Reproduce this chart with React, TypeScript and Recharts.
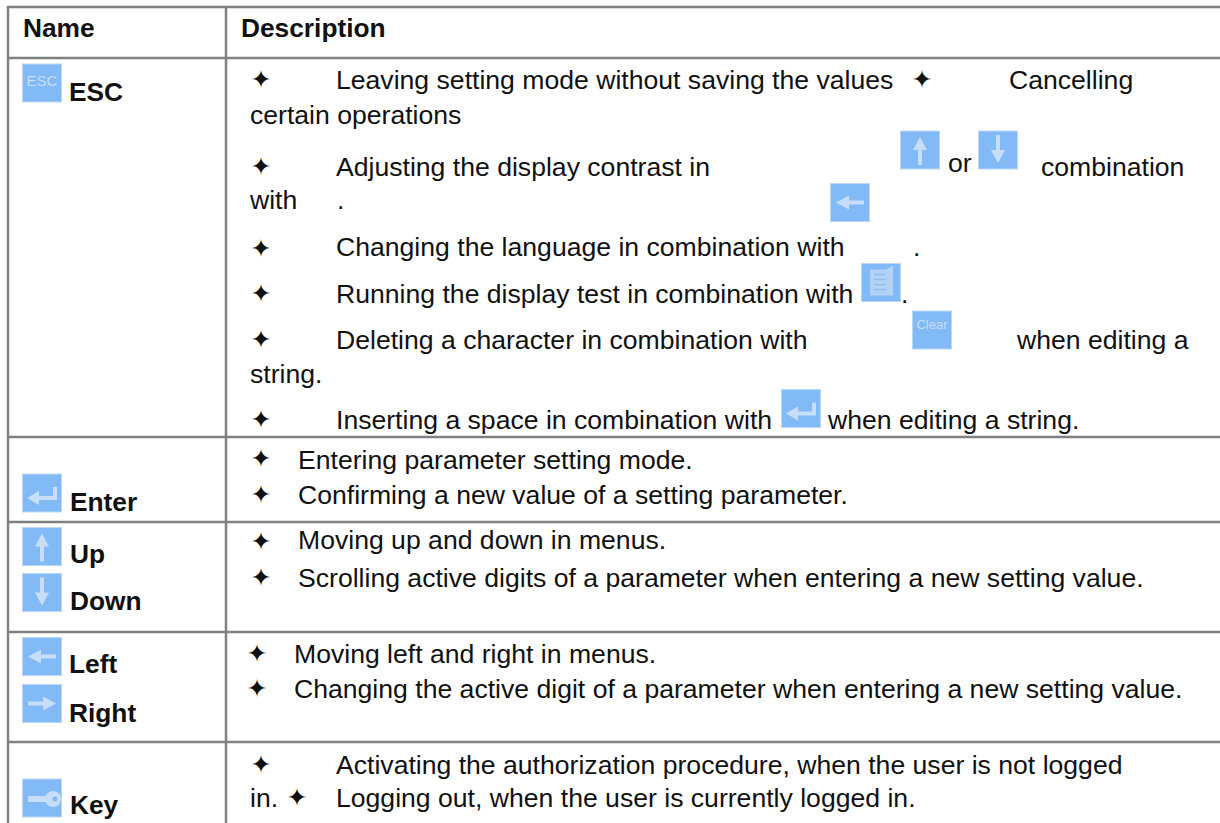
import { ScatterChart, Scatter, XAxis, YAxis, ReferenceLine } from 'recharts'

const WIDTH = 1220
const HEIGHT = 823

// table rules, in page pixels on the x / y scales
const columnRules = [8, 226]
const rowRules = [7, 58, 437, 522, 632, 742]

// first column
const keyNames = ['Name', 'ESC', 'Enter', 'Up', 'Down', 'Left', 'Right', 'Key']
const keyX = [23, 69, 70, 70, 70, 69, 69, 70]
const keyBaseline = [37, 101, 511, 563, 610, 673, 722, 814]

// second column
const headerNames = ['Description']
const headerX = [241]
const headerBaseline = [37]

const bodyTexts = [
  'Leaving setting mode without saving the values',
  'Cancelling',
  'certain operations',
  'Adjusting the display contrast in',
  'or',
  'combination',
  'with',
  '.',
  'Changing the language in combination with',
  '.',
  'Running the display test in combination with',
  '.',
  'Deleting a character in combination with',
  'when editing a',
  'string.',
  'Inserting a space in combination with',
  'when editing a string.',
  'Entering parameter setting mode.',
  'Confirming a new value of a setting parameter.',
  'Moving up and down in menus.',
  'Scrolling active digits of a parameter when entering a new setting value.',
  'Moving left and right in menus.',
  'Changing the active digit of a parameter when entering a new setting value.',
  'Activating the authorization procedure, when the user is not logged',
  'in.',
  'Logging out, when the user is currently logged in.',
]
const bodyX = [
  336, 1009, 250, 336, 948, 1041, 250, 337, 336, 913, 336, 901, 336, 1017, 250, 336, 828, 298, 298, 298, 298, 294, 294,
  336, 250, 336,
]
const bodyBaseline = [
  89, 89, 124, 176, 172, 176, 209, 209, 256, 256, 303, 303, 349, 349, 383, 429, 429, 469, 504, 549, 587, 663, 698, 774,
  807, 807,
]

// bullets (centre)
const starX = [261, 922, 261, 261, 261, 261, 261, 261, 261, 261, 261, 257, 257, 261, 297]
const starY = [79, 79, 166, 248, 293, 339, 419, 458, 494, 541, 577, 653, 688, 764, 797]

// key icons (centre)
const iconKinds = [
  'esc', 'enter', 'up', 'down', 'left', 'right', 'key',
  'up', 'down', 'left', 'test', 'clear', 'enter',
]
const iconX = [42, 42, 42, 42, 42, 42, 42, 920, 998, 850, 881, 932, 801]
const iconY = [83, 493, 546.5, 592.5, 656.5, 703.5, 798, 150, 150, 202.5, 282.5, 330, 408.5]

const zipPoints = (xs: number[], ys: number[], extra: Record<string, unknown[]> = {}) =>
  xs.map((x, i) => {
    const p: Record<string, unknown> = { x, y: ys[i] }
    Object.keys(extra).forEach((k) => (p[k] = extra[k][i]))
    return p
  })

const TextShape = ({ cx, cy, payload, bold }: any) => (
  <text
    x={cx}
    y={cy}
    fontFamily="'Liberation Sans', Arial, sans-serif"
    fontSize={bold ? 26.3 : 26.6}
    fontWeight={bold ? 700 : 400}
    fill="#111"
  >
    {payload.text}
  </text>
)

const StarShape = ({ cx, cy }: any) => (
  <text
    x={cx}
    y={cy}
    textAnchor="middle"
    dominantBaseline="central"
    fontFamily="'DejaVu Sans', sans-serif"
    fontSize={25}
    fill="#111"
  >
    ✦
  </text>
)

const GLYPH = '#c8def8'
const ICON_BLUE = '#82b9f7'

const IconGlyph = ({ kind }: { kind: string }) => {
  const arrow = { stroke: GLYPH, strokeWidth: 4, fill: 'none' }
  switch (kind) {
    case 'esc':
    case 'clear':
      return (
        <text
          textAnchor="middle"
          y={kind === 'esc' ? 3 : -1}
          fontFamily="'Liberation Sans', Arial, sans-serif"
          fontSize={kind === 'esc' ? 15 : 13}
          fill={GLYPH}
        >
          {kind === 'esc' ? 'ESC' : 'Clear'}
        </text>
      )
    case 'up':
      return (
        <g>
          <path d="M0 -2 V15" {...arrow} />
          <path d="M0 -13 L-7 0 H7 Z" fill={GLYPH} />
        </g>
      )
    case 'down':
      return (
        <g>
          <path d="M0 -15 V2" {...arrow} />
          <path d="M0 13 L-7 0 H7 Z" fill={GLYPH} />
        </g>
      )
    case 'left':
      return (
        <g>
          <path d="M-3 0 H14" {...arrow} />
          <path d="M-14 0 L-1 -7 V7 Z" fill={GLYPH} />
        </g>
      )
    case 'right':
      return (
        <g>
          <path d="M-14 0 H3" {...arrow} />
          <path d="M14 0 L1 -7 V7 Z" fill={GLYPH} />
        </g>
      )
    case 'enter':
      return (
        <g>
          <path d="M-6 5 H13 V-6" {...arrow} />
          <path d="M-15 5 L-3 -2 V12 Z" fill={GLYPH} />
        </g>
      )
    case 'key':
      return (
        <g>
          <path d="M-14 1 H4" stroke={GLYPH} strokeWidth={6} fill="none" />
          <circle cx={11} cy={1} r={8} fill={GLYPH} />
          <circle cx={13} cy={1} r={2.5} fill={ICON_BLUE} />
        </g>
      )
    case 'test':
      return (
        <g>
          <path d="M-11 -13 H5 L12 -17 V13 H-11 Z" fill="#b4d2f6" />
          <path d="M-7 -8 H4 M-7 -3 H5 M-7 2 H5 M-7 7 H5" stroke="#8fbdf2" strokeWidth={1.5} />
        </g>
      )
    default:
      return null
  }
}

const IconShape = ({ cx, cy, payload }: any) => (
  <g transform={`translate(${cx} ${cy})`}>
    <rect x={-19.5} y={-19} width={39} height={38} fill={ICON_BLUE} stroke="#bcd8f7" strokeWidth={1} />
    <IconGlyph kind={payload.kind} />
  </g>
)

const keyData = zipPoints(keyX, keyBaseline, { text: keyNames })
const headerData = zipPoints(headerX, headerBaseline, { text: headerNames })
const bodyData = zipPoints(bodyX, bodyBaseline, { text: bodyTexts })
const starData = zipPoints(starX, starY)
const iconData = zipPoints(iconX, iconY, { kind: iconKinds })

export default function App() {
  return (
    <div style={{ position: 'absolute', left: 0, top: 0, background: '#fff' }}>
      <ScatterChart width={WIDTH} height={HEIGHT} margin={{ top: 0, right: 0, bottom: 0, left: 0 }}>
        <XAxis type="number" dataKey="x" domain={[0, WIDTH]} hide />
        <YAxis type="number" dataKey="y" domain={[0, HEIGHT]} reversed hide />
        {rowRules.map((y) => (
          <ReferenceLine key={`r${y}`} segment={[{ x: 7, y }, { x: WIDTH, y }]} stroke="#808080" strokeWidth={2.5} />
        ))}
        {columnRules.map((x) => (
          <ReferenceLine key={`c${x}`} segment={[{ x, y: 6 }, { x, y: HEIGHT }]} stroke="#808080" strokeWidth={2.5} />
        ))}
        <Scatter data={iconData} shape={<IconShape />} isAnimationActive={false} />
        <Scatter data={starData} shape={<StarShape />} isAnimationActive={false} />
        <Scatter data={keyData} shape={<TextShape bold />} isAnimationActive={false} />
        <Scatter data={headerData} shape={<TextShape bold />} isAnimationActive={false} />
        <Scatter data={bodyData} shape={<TextShape />} isAnimationActive={false} />
      </ScatterChart>
    </div>
  )
}
